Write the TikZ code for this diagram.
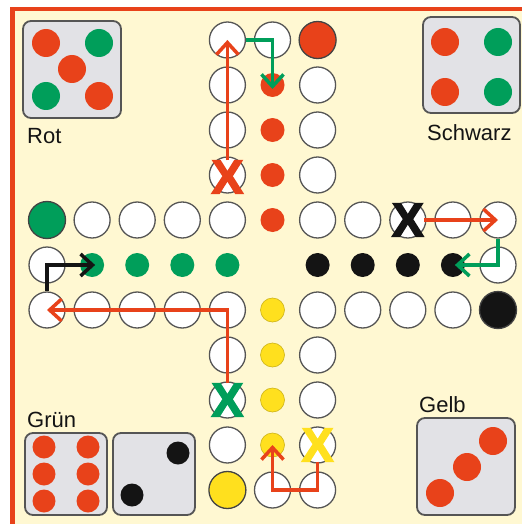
\documentclass[tikz,border=0pt]{standalone}
\usepackage{fontspec}
\setmainfont{Liberation Sans}
\newfontfamily\heavyfont{Liberation Sans Bold}[FakeBold=3]
\usepackage{tikz}
\usetikzlibrary{arrows.meta, positioning}
\definecolor{board-red}{RGB}{232,66,26}
\definecolor{board-green}{RGB}{0,158,90}
\definecolor{board-yellow}{RGB}{255,224,30}
\definecolor{board-black}{RGB}{20,20,20}
\definecolor{board-cream}{RGB}{255,248,210}
\definecolor{die-gray}{RGB}{226,226,230}
\definecolor{line-gray}{RGB}{85,85,85}

\begin{document}
\begin{tikzpicture}[
    x=1pt, y=-1pt,
    field/.style={circle, draw=line-gray, fill=white, line width=1.3pt, minimum size=36pt, inner sep=0pt},
    startfield/.style={circle, draw=board-black!80, line width=1.3pt, minimum size=37pt, inner sep=0pt},
    homedot/.style={circle, minimum size=24pt, inner sep=0pt},
    dieface/.style={rectangle, rounded corners=8pt, draw=line-gray, fill=die-gray, line width=1.8pt, inner sep=0pt},
    pip/.style={circle, minimum size=28pt, inner sep=0pt},
    smallpip/.style={circle, minimum size=23pt, inner sep=0pt},
    player/.style={font=\fontsize{22}{26}\selectfont, text=board-black, inner sep=0pt, anchor=base west},
    xmark/.style={font=\heavyfont\fontsize{48}{48}\selectfont, inner sep=0pt},
    movearrow/.style={line width=3.5pt, -{Straight Barb[length=12pt, width=22pt, line width=3.5pt]}}
]
\useasboundingbox (0,0) rectangle (522,524);

% Brett
\fill[board-cream] (12,9) rectangle (522,524);
\draw[board-red, line width=4.5pt] (12.5,524) -- (12.5,9) -- (522,9);

% Laufweg
\foreach \c/\r in {4/0,4/1,4/2,4/3,5/0,6/1,6/2,6/3,
                   1/4,2/4,3/4,4/4,6/4,7/4,8/4,9/4,10/4,
                   0/5,10/5,
                   0/6,1/6,2/6,3/6,4/6,6/6,7/6,8/6,9/6,
                   4/7,4/8,4/9,5/10,6/7,6/8,6/9,6/10}
  \node[field] (f-\c-\r) at ({47+45.1*\c},{40+45*\r}) {};

% Startfelder
\foreach \c/\r/\col in {6/0/board-red, 0/4/board-green, 10/6/board-black, 4/10/board-yellow}
  \node[startfield, fill=\col] (s-\c-\r) at ({47+45.1*\c},{40+45*\r}) {};

% Zielfelder
\foreach \c/\r/\col in {5/1/board-red, 5/2/board-red, 5/3/board-red, 5/4/board-red,
                        1/5/board-green, 2/5/board-green, 3/5/board-green, 4/5/board-green,
                        6/5/board-black, 7/5/board-black, 8/5/board-black, 9/5/board-black}
  \node[homedot, fill=\col] (h-\c-\r) at ({47+45.1*\c},{40+45*\r}) {};
\foreach \r in {6,7,8,9}
  \node[homedot, fill=board-yellow, draw=board-yellow!80!black, line width=0.6pt] (h-5-\r) at ({47+45.1*5},{40+45*\r}) {};

% Wuerfel
\node[dieface, minimum width=98pt, minimum height=97pt] (die-rot) at (72,69.5) {};
\node[dieface, minimum width=97pt, minimum height=96pt] (die-schwarz) at (471.5,65) {};
\node[dieface, minimum width=82pt, minimum height=82pt] (die-gruen) at (66,474) {};
\node[dieface, minimum width=82pt, minimum height=82pt] (die-zwei) at (154,474) {};
\node[dieface, minimum width=98pt, minimum height=97pt] (die-gelb) at (466,466.5) {};

\foreach \px/\py/\col [count=\k] in {46/43/board-red, 99/43/board-green, 72/69/board-red,
                                     46/96/board-green, 99/96/board-red}
  \node[pip, fill=\col] (rot-\k) at (\px,\py) {};
\foreach \px/\py/\col [count=\k] in {445/42/board-red, 498/42/board-green,
                                     445/92/board-red, 498/92/board-green}
  \node[pip, fill=\col] (schwarz-\k) at (\px,\py) {};
\foreach \px/\py [count=\k] in {44/447, 88/447, 44/474, 88/474, 44/501, 88/501}
  \node[smallpip, fill=board-red] (gruen-\k) at (\px,\py) {};
\foreach \px/\py [count=\k] in {178/453, 132/495}
  \node[smallpip, fill=board-black] (zwei-\k) at (\px,\py) {};
\foreach \px/\py [count=\k] in {493/441, 467/467, 440/493}
  \node[pip, fill=board-red] (gelb-\k) at (\px,\py) {};

% Namen
\node[player] (n-rot) at (27,143) {Rot};
\node[player] (n-schwarz) at (427,140) {Schwarz};
\node[player] (n-gruen) at (27,427) {Grün};
\node[player] (n-gelb) at (419,412) {Gelb};

% geschlagene Figuren
\node[xmark, text=board-red] (xr) at ([yshift=-2pt]f-4-3) {X};
\node[xmark, text=board-black] (xb) at (f-8-4) {X};
\node[xmark, text=board-green] (xg) at (f-4-8) {X};
\node[xmark, text=board-yellow] (xy) at (f-6-9) {X};

% Zuege
\draw[movearrow, board-red] (xr.north) -- (f-4-0.center);
\draw[movearrow, board-green] (f-4-0.east) -| ([yshift=-4pt]h-5-1.center);
\draw[movearrow, board-red] (xb.east) -- (f-10-4.center);
\draw[movearrow, board-green] (f-10-4.south) |- ([xshift=2pt]h-9-5.center);
\draw[movearrow, board-black] (f-0-6.north) |- ([xshift=3pt]h-1-5.center);
\draw[movearrow, board-red] (xg.north) |- (f-0-6.center);
\draw[movearrow, board-red] (xy.south) -- (f-6-10.center) -- (f-5-10.center) -- (h-5-9.center);

\end{tikzpicture}
\end{document}
